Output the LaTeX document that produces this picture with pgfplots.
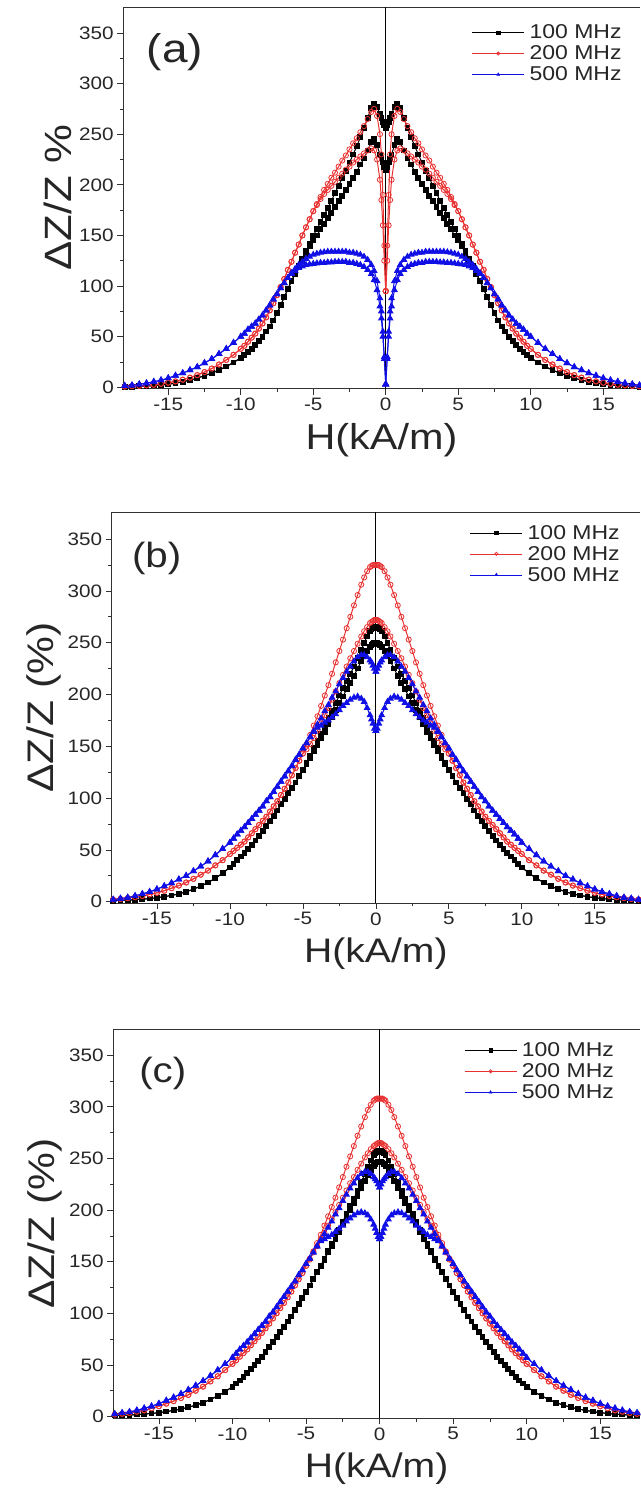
\documentclass[border=0pt]{standalone}
\usepackage{pgfplots}
\pgfplotsset{compat=1.18}
\usepackage{pgfplotstable}
\usepackage{fontspec}
\setmainfont{Liberation Sans}[FakeStretch=1.15]
\definecolor{rcol}{RGB}{232,50,50}
\definecolor{bcol}{RGB}{15,15,230}
\definecolor{axcol}{RGB}{50,50,50}

\pgfplotstableread{
x ku kl ru rl bu bl
0 256 215 95 95 3 3
0.1 259 218 140 125 30 28
0.2 262 222 190 160 55 50
0.3 266 226 230 185 75 68
0.4 270 230 250 205 88 80
0.6 277 239 268 225 105 96
0.8 280 245 275 234 115 106
1 276 242 272 236 121 112
1.25 266 234 265 234 126 116
1.5 256 226 258 231 129 119
1.75 247 220 252 228 131 121
2 238 213 246 225 132 122
2.25 230 207 241 222 133 123
2.5 222 201 235 218 133 123
2.75 214 195 229 215 134 124
3 207 189 224 211 134 124
3.25 199 184 218 207 134 124
3.5 192 178 212 203 134 124
3.75 184 172 207 199 134 123.5
4 177 167 201 195 134 123.5
4.25 170 161 195 191 133.5 123
4.5 163 156 188 186 133 123
4.75 156 150 181 180 132 122.5
5 150 145 174 174 131 122
5.25 142 139 166 166 129 121.5
5.5 135 132 158 158 127 121
5.75 127 126 150 150 124 119.5
6 120 120 141 141 121 118
6.25 112 112 133 133 117 115
6.5 105 105 124 124 113 112
6.75 97 97 116 116 108 108
7 89 89 107 107 103 103
7.25 81 81 99 99 98 98
7.5 73 73 91 91 92 92
7.75 66 66 83 83 87 87
8 60 60 76 76 81 81
8.25 55 55 69 69 76 76
8.5 50 50 63 63 71 71
8.75 46 46 58 58 67 67
9 42 42 53 53 63 63
9.25 38 38 49 49 60 60
9.5 35 35 45 45 57 57
9.75 32 32 41 41 53 53
10 29 29 38 38 50 50
10.5 24.5 24.5 32 32 44 44
11 20.5 20.5 27 27 38 38
11.5 17 17 22.5 22.5 33 33
12 14 14 18.5 18.5 28 28
12.5 11.5 11.5 15 15 24 24
13 9 9 12 12 20 20
13.5 7 7 9.5 9.5 17 17
14 5.5 5.5 7.5 7.5 14 14
14.5 4 4 5.8 5.8 11.5 11.5
15 3 3 4.5 4.5 9 9
15.5 2.3 2.3 3.4 3.4 7 7
16 1.7 1.7 2.5 2.5 5.5 5.5
16.5 1.2 1.2 1.9 1.9 4 4
17 0.9 0.9 1.4 1.4 3 3
17.5 0.6 0.6 1 1 2 2
18 0.4 0.4 0.7 0.7 1.5 1.5
}\tabA

\pgfplotstableread{
x ku kl ru rl bu bl
0 265 250 325 272 222 165
0.1 265 250 325 272 225 167
0.2 264 249 325 271 228 172
0.3 263 248 324 270 231 176
0.4 261 246 323 269 233 180
0.6 256 242 319 265 236 187
0.8 250 237 313 261 238 193
1 243 232 306 256 238 196
1.25 235 225 296 249 236 198
1.5 227 218 286 242 232 197
1.75 220 211 275 235 227 195
2 213 205 264 227 222 192
2.25 206 198 253 219 216 189
2.5 199 192 242 211 210 185
2.75 192 185 231 203 203 181
3 184 178 220 195 197 178
3.25 177 171 209 187 190 175
3.5 169 164 199 180 184 173
3.75 162 158 189 172 177 170
4 155 151 179 165 171 168
4.25 148 145 170 158 165 164
4.5 141 139 161 152 159 159
4.75 134 133 152 147 153 153
5 127 127 143 143 148 148
5.25 121 121 136 136 142 142
5.5 115 115 129 129 137 137
5.75 110 110 122 122 131 131
6 105 105 115 115 126 126
6.25 99 99 109 109 121 121
6.5 94 94 103 103 116 116
6.75 88 88 97 97 111 111
7 83 83 92 92 106 106
7.25 78 78 87 87 101 101
7.5 73 73 82 82 97 97
7.75 68 68 78 78 92 92
8 63 63 74 74 88 88
8.25 59 59 70 70 84 84
8.5 55 55 66 66 80 80
8.75 51 51 62 62 76 76
9 47 47 58 58 72 72
9.25 43.5 43.5 55 55 68.5 68.5
9.5 40 40 52 52 65 65
9.75 36.5 36.5 49 49 61 61
10 33 33 46 46 57 57
10.5 27.5 27.5 40 40 51 51
11 22.5 22.5 35 35 45 45
11.5 18.5 18.5 30 30 39 39
12 15 15 26 26 34 34
12.5 12 12 22 22 29.5 29.5
13 9.5 9.5 18.5 18.5 25 25
13.5 7.5 7.5 15.5 15.5 21.5 21.5
14 6 6 13 13 18 18
14.5 4.8 4.8 10.5 10.5 15 15
15 3.8 3.8 8.5 8.5 12 12
15.5 3 3 7 7 9.5 9.5
16 2.4 2.4 5.5 5.5 7.5 7.5
16.5 1.9 1.9 4.3 4.3 5.5 5.5
17 1.5 1.5 3.4 3.4 4 4
17.5 1.2 1.2 2.6 2.6 3 3
18 1 1 2 2 2 2
}\tabB

\pgfplotstableread{
x ku kl ru rl bu bl
0 257 247 308 265 222 172
0.1 257 247 308 265 225 174
0.2 256 246 308 264 228 178
0.3 255 245 307 263 230 182
0.4 253 243 306 262 232 186
0.6 248 239 302 259 235 191
0.8 242 234 297 255 237 195
1 235 228 290 251 237 197
1.25 227 221 281 245 235 198
1.5 219 214 272 239 231 197
1.75 211 207 262 232 226 195
2 204 200 252 226 221 192
2.25 196 193 242 219 215 189
2.5 189 186 232 212 209 185
2.75 181 179 222 205 202 182
3 174 172 212 198 196 179
3.25 167 165 203 191 189 176
3.5 160 159 194 185 183 174
3.75 153 152 185 178 177 172
4 146 146 176 172 171 170
4.25 140 140 168 165 165 165
4.5 133 133 160 159 159 159
4.75 127 127 153 152 153 153
5 121 121 146 146 148 148
5.25 115 115 139 139 142 142
5.5 109 109 133 133 137 137
5.75 103 103 127 127 131 131
6 97 97 121 121 126 126
6.25 92 92 115.5 115.5 121 121
6.5 87 87 110 110 116 116
6.75 82 82 105 105 111 111
7 77 77 100 100 106 106
7.25 72 72 95 95 101 101
7.5 67 67 90 90 97 97
7.75 62.5 62.5 85.5 85.5 92 92
8 58 58 81 81 88 88
8.25 54 54 77 77 84 84
8.5 50 50 73 73 80 80
8.75 46 46 69 69 76 76
9 42 42 65 65 72 72
9.25 38.5 38.5 61.5 61.5 68.5 68.5
9.5 35 35 58 58 65 65
9.75 32 32 54.5 54.5 61 61
10 29 29 51 51 57 57
10.5 24 24 45 45 51 51
11 20 20 39 39 45 45
11.5 16.5 16.5 34 34 39.5 39.5
12 13.5 13.5 29 29 34.5 34.5
12.5 11 11 25 25 30 30
13 9 9 21 21 26 26
13.5 7.3 7.3 18 18 22 22
14 6 6 15 15 18.5 18.5
14.5 4.8 4.8 12.5 12.5 15.5 15.5
15 3.8 3.8 10 10 12.5 12.5
15.5 3 3 8 8 10 10
16 2.4 2.4 6 6 8 8
16.5 1.9 1.9 4.7 4.7 6 6
17 1.5 1.5 3.5 3.5 4.5 4.5
17.5 1.2 1.2 2.7 2.7 3.5 3.5
18 1 1 2 2 2.5 2.5
}\tabC

\pgfplotsset{
  kstyle/.style={black, line width=1pt, mark=square*, mark size=2.4pt, mark options={solid,fill=black}},
  rstyle/.style={rcol, line width=1pt, mark=o, mark size=2.6pt, mark options={solid,line width=0.8pt}},
  bstyle/.style={bcol, line width=1pt, mark=triangle*, mark size=3.1pt, mark options={solid,fill=bcol}},
  panel/.style={
    scale only axis,
    xmin=-18.1,
    axis x line*=box, axis y line*=left,
    axis line style={axcol, line width=0.8pt},
    xtick={-15,-10,...,15}, minor x tick num=1,
    ytick={0,50,...,350}, minor y tick num=1,
    xtick pos=left, ytick pos=left,
    tick align=outside,
    major tick length=6pt, minor tick length=3.5pt,
    tick style={axcol, line width=0.7pt},
    tick label style={font=\fontsize{18}{20}\selectfont, text=black!85},
    /pgf/number format/assume math mode=true,
    label style={text=black!85},
    extra x ticks={0}, extra x tick labels={},
    extra x tick style={grid=major, major tick length=0pt, major grid style={black, line width=0.8pt}},
    legend cell align=left,
    legend image code/.code={\draw[mark repeat=2,mark phase=2,##1,line width=0.6pt,mark size=1.6pt] plot coordinates {(0pt,0pt) (26pt,0pt) (52pt,0pt)};},
    legend style={anchor=north west, draw=none, fill=none, font=\fontsize{20}{22}\selectfont, inner sep=0pt, row sep=3.5pt, text=black!85, nodes={inner xsep=5pt, inner ysep=1pt}},
  },
}

\newcommand\twoside[3]{%
  \addplot[#1,forget plot] table[x=x,y=#3]{#2};
  \addplot[#1,forget plot] table[x expr=-\thisrow{x},y=#3]{#2};
}
\newcommand\panelplots[1]{%
  \twoside{kstyle}{#1}{ku}\twoside{kstyle}{#1}{kl}%
  \twoside{rstyle}{#1}{ru}\twoside{rstyle}{#1}{rl}%
  \twoside{bstyle}{#1}{bu}\twoside{bstyle}{#1}{bl}%
  \addlegendimage{kstyle}\addlegendentry{100 MHz}
  \addlegendimage{rstyle}\addlegendentry{200 MHz}
  \addlegendimage{bstyle}\addlegendentry{500 MHz}
}

\begin{document}
\begin{tikzpicture}
\useasboundingbox (0pt,0pt) rectangle (640pt,1496pt);

% panel (a)
\begin{axis}[panel,
  at={(123.3pt,1107.3pt)}, anchor=south west,
  width=516.2pt, height=381.4pt,
  xmax=17.5, ymin=-1.4, ymax=375.4,
  xlabel={H(kA/m)}, ylabel={ΔZ/Z \%},
  xlabel style={font=\fontsize{36}{40}\selectfont},
  ylabel style={font=\fontsize{38}{42}\selectfont},
  legend style={at={(rel axis cs:0.675,0.957)}},
]
\panelplots{\tabA}
\node[font=\fontsize{40}{44}\selectfont, text=black!85] at (rel axis cs:0.1,0.883) {(a)};
\end{axis}

% panel (b)
\begin{axis}[panel,
  at={(111.7pt,593.0pt)}, anchor=south west,
  width=528.3pt, height=390.7pt,
  xmax=18.1, ymin=-1.3, ymax=375.9,
  xlabel={H(kA/m)}, ylabel={ΔZ/Z (\%)},
  xlabel style={font=\fontsize{34}{38}\selectfont},
  ylabel style={font=\fontsize{37}{40}\selectfont},
  legend style={at={(rel axis cs:0.678,0.970)}},
]
\panelplots{\tabB}
\node[font=\fontsize{35}{40}\selectfont, text=black!85] at (rel axis cs:0.085,0.882) {(b)};
\end{axis}

% panel (c)
\begin{axis}[panel,
  at={(113.3pt,78.0pt)}, anchor=south west,
  width=526.7pt, height=389.0pt,
  xmax=17.7, ymin=-1.4, ymax=375.4,
  xlabel={H(kA/m)}, ylabel={ΔZ/Z (\%)},
  xlabel style={font=\fontsize{34}{38}\selectfont},
  ylabel style={font=\fontsize{37}{40}\selectfont},
  legend style={at={(rel axis cs:0.666,0.968)}},
]
\panelplots{\tabC}
\node[font=\fontsize{35}{40}\selectfont, text=black!85] at (rel axis cs:0.094,0.886) {(c)};
\end{axis}
\end{tikzpicture}
\end{document}
